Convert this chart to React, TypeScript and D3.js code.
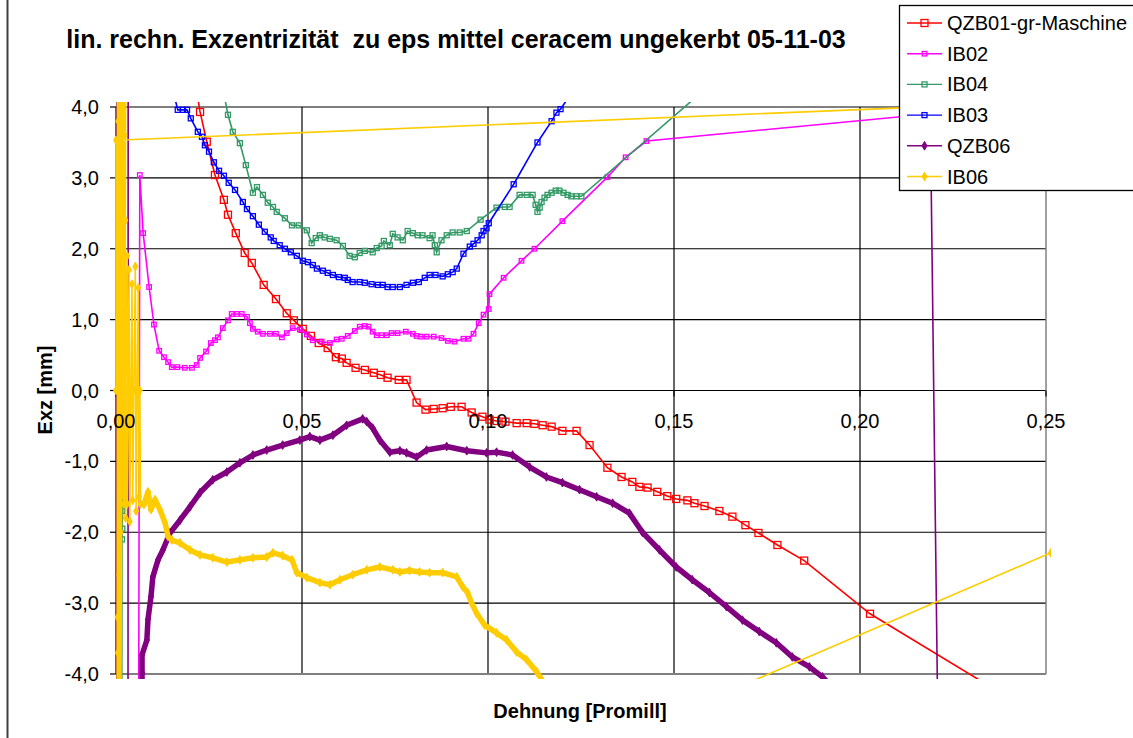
import React from 'react';
import * as d3 from 'd3';

const W = 1133;
const H = 738;

const xTicks = [0, 0.05, 0.1, 0.15, 0.2, 0.25];
const yTicks = [-4, -3, -2, -1, 0, 1, 2, 3, 4];

const seriesNames = ['QZB01-gr-Maschine', 'IB02', 'IB04', 'IB03', 'QZB06', 'IB06'];
const seriesColors = ['#FF0000', '#FF00FF', '#339966', '#0000FF', '#800080', '#FFCC00'];

const qzb01: [number, number][] = [
  [0.0212, 4.38], [0.0226, 3.93], [0.0244, 3.51], [0.0266, 3.04], [0.0290, 2.69], [0.0301, 2.48],
  [0.0322, 2.22], [0.0346, 1.94], [0.0365, 1.80], [0.0397, 1.49], [0.0430, 1.29], [0.0459, 1.09],
  [0.0478, 0.99], [0.0502, 0.87], [0.0524, 0.77], [0.0545, 0.67], [0.0569, 0.60], [0.0591, 0.47],
  [0.0607, 0.45], [0.0620, 0.39], [0.0644, 0.32], [0.0669, 0.29], [0.0693, 0.25], [0.0712, 0.22],
  [0.0730, 0.18], [0.0760, 0.15], [0.0781, 0.15], [0.0808, -0.17], [0.0832, -0.27], [0.0854, -0.26],
  [0.0878, -0.25], [0.0900, -0.23], [0.0929, -0.23], [0.0956, -0.31], [0.0985, -0.37], [0.1004, -0.41],
  [0.1023, -0.43], [0.1047, -0.44], [0.1077, -0.46], [0.1104, -0.46], [0.1125, -0.47], [0.1147, -0.49],
  [0.1171, -0.51], [0.1200, -0.57], [0.1238, -0.57], [0.1273, -0.77], [0.1321, -1.09], [0.1359, -1.22],
  [0.1388, -1.29], [0.1407, -1.36], [0.1429, -1.37], [0.1455, -1.43], [0.1482, -1.49], [0.1506, -1.53],
  [0.1536, -1.55], [0.1555, -1.59], [0.1582, -1.63], [0.1622, -1.70], [0.1657, -1.78], [0.1692, -1.90],
  [0.1727, -2.01], [0.1778, -2.18], [0.1850, -2.40], [0.2027, -3.15], [0.2401, -4.34],
];

const ib02: [number, number][] = [
  [0.0058, -12], [0.0064, 3.04], [0.0073, 2.22], [0.0089, 1.46], [0.0102, 0.93], [0.0116, 0.56],
  [0.0129, 0.47], [0.0140, 0.40], [0.0150, 0.33], [0.0165, 0.33], [0.0185, 0.32], [0.0204, 0.32],
  [0.0217, 0.36], [0.0226, 0.46], [0.0242, 0.55], [0.0255, 0.67], [0.0266, 0.71], [0.0274, 0.75],
  [0.0287, 0.88], [0.0301, 0.99], [0.0311, 1.08], [0.0325, 1.08], [0.0338, 1.08], [0.0352, 1.04],
  [0.0360, 0.95], [0.0368, 0.87], [0.0381, 0.83], [0.0395, 0.80], [0.0414, 0.80], [0.0430, 0.80],
  [0.0446, 0.75], [0.0459, 0.81], [0.0475, 0.88], [0.0494, 0.86], [0.0513, 0.79], [0.0529, 0.71],
  [0.0553, 0.69], [0.0575, 0.67], [0.0593, 0.72], [0.0607, 0.73], [0.0623, 0.77], [0.0642, 0.84],
  [0.0655, 0.90], [0.0669, 0.91], [0.0679, 0.90], [0.0690, 0.83], [0.0701, 0.78], [0.0714, 0.78],
  [0.0728, 0.78], [0.0741, 0.81], [0.0757, 0.81], [0.0779, 0.83], [0.0798, 0.80], [0.0808, 0.77],
  [0.0819, 0.76], [0.0835, 0.76], [0.0854, 0.76], [0.0875, 0.74], [0.0892, 0.70], [0.0910, 0.69],
  [0.0934, 0.73], [0.0948, 0.73], [0.0961, 0.80], [0.0975, 0.95], [0.0988, 1.07], [0.1002, 1.15],
  [0.1004, 1.36], [0.1042, 1.59], [0.1090, 1.83], [0.1125, 2.00], [0.1200, 2.39], [0.1321, 3.01],
  [0.1370, 3.29], [0.1426, 3.52], [0.3000, 4.31],
];

const ib04: [number, number][] = [
  [0.0014, -12], [0.0016, -2.1], [0.0018, -1.6], [0.0015, -1.45], [0.0017, -1.95], [0.0016, -1.7],
  [0.0017, 12], [0.0275, 4.6], [0.0301, 3.89], [0.0314, 3.65], [0.0333, 3.49], [0.0349, 3.18],
  [0.0368, 2.79], [0.0379, 2.87], [0.0395, 2.76], [0.0408, 2.65], [0.0422, 2.59], [0.0432, 2.52],
  [0.0454, 2.43], [0.0473, 2.33], [0.0491, 2.33], [0.0513, 2.26], [0.0526, 2.08], [0.0537, 2.15],
  [0.0548, 2.19], [0.0561, 2.16], [0.0575, 2.14], [0.0593, 2.12], [0.0610, 2.04], [0.0628, 1.90],
  [0.0642, 1.88], [0.0655, 1.94], [0.0669, 1.97], [0.0690, 1.95], [0.0701, 2.01], [0.0714, 2.04],
  [0.0720, 2.11], [0.0736, 2.05], [0.0744, 2.21], [0.0757, 2.16], [0.0771, 2.12], [0.0784, 2.25],
  [0.0798, 2.22], [0.0811, 2.19], [0.0824, 2.19], [0.0843, 2.15], [0.0851, 2.19], [0.0857, 2.05],
  [0.0862, 1.95], [0.0875, 2.12], [0.0889, 2.19], [0.0905, 2.23], [0.0924, 2.23], [0.0943, 2.25],
  [0.0980, 2.41], [0.1023, 2.58], [0.1045, 2.59], [0.1058, 2.59], [0.1085, 2.76], [0.1104, 2.76],
  [0.1120, 2.76], [0.1128, 2.62], [0.1133, 2.52], [0.1139, 2.58], [0.1144, 2.66], [0.1152, 2.72],
  [0.1160, 2.76], [0.1171, 2.79], [0.1182, 2.82], [0.1192, 2.82], [0.1203, 2.79], [0.1214, 2.76],
  [0.1224, 2.74], [0.1238, 2.74], [0.1251, 2.74], [0.1568, 4.18],
];

const ib03: [number, number][] = [
  [0.0150, 4.30], [0.0166, 3.96], [0.0180, 3.96], [0.0191, 3.96], [0.0201, 3.84], [0.0220, 3.65],
  [0.0231, 3.58], [0.0239, 3.46], [0.0250, 3.37], [0.0263, 3.22], [0.0277, 3.10], [0.0290, 3.03],
  [0.0303, 2.93], [0.0320, 2.83], [0.0341, 2.66], [0.0352, 2.56], [0.0368, 2.46], [0.0384, 2.34],
  [0.0400, 2.24], [0.0416, 2.16], [0.0424, 2.11], [0.0440, 2.05], [0.0454, 2.00], [0.0470, 1.95],
  [0.0486, 1.90], [0.0502, 1.83], [0.0516, 1.81], [0.0529, 1.77], [0.0540, 1.72], [0.0556, 1.69],
  [0.0569, 1.66], [0.0583, 1.63], [0.0599, 1.60], [0.0615, 1.59], [0.0623, 1.56], [0.0636, 1.53],
  [0.0655, 1.53], [0.0669, 1.52], [0.0687, 1.50], [0.0704, 1.49], [0.0717, 1.49], [0.0730, 1.46],
  [0.0744, 1.46], [0.0763, 1.46], [0.0781, 1.49], [0.0798, 1.52], [0.0814, 1.53], [0.0830, 1.59],
  [0.0843, 1.63], [0.0859, 1.63], [0.0878, 1.61], [0.0892, 1.64], [0.0905, 1.67], [0.0916, 1.72],
  [0.0934, 1.93], [0.0951, 2.03], [0.0961, 2.07], [0.0972, 2.12], [0.0983, 2.19], [0.0988, 2.25],
  [0.0996, 2.29], [0.1002, 2.36], [0.1069, 2.91], [0.1133, 3.50], [0.1171, 3.80], [0.1184, 3.92],
  [0.1195, 3.97], [0.1230, 4.24],
];

const qzb06: [number, number][] = [
  [0.0002, -12], [0.0003, 12], [0.0004, -12], [0.0005, 12], [0.0033, 12], [0.0032, -12],
  [0.0070, -4.22], [0.0070, -3.98], [0.0070, -3.73], [0.0083, -3.52], [0.0086, -3.23], [0.0094, -2.91],
  [0.0099, -2.63], [0.0113, -2.39], [0.0126, -2.25], [0.0145, -2.01], [0.0172, -1.83], [0.0199, -1.64],
  [0.0226, -1.44], [0.0260, -1.26], [0.0298, -1.15], [0.0333, -1.02], [0.0368, -0.91], [0.0405, -0.84],
  [0.0448, -0.77], [0.0494, -0.70], [0.0521, -0.65], [0.0548, -0.70], [0.0583, -0.63], [0.0620, -0.49],
  [0.0663, -0.40], [0.0674, -0.44], [0.0690, -0.53], [0.0709, -0.70], [0.0736, -0.87], [0.0763, -0.85],
  [0.0781, -0.88], [0.0808, -0.94], [0.0835, -0.84], [0.0889, -0.79], [0.0943, -0.85], [0.0996, -0.88],
  [0.1023, -0.87], [0.1066, -0.91], [0.1112, -1.08], [0.1157, -1.22], [0.1200, -1.30], [0.1246, -1.40],
  [0.1292, -1.50], [0.1335, -1.59], [0.1380, -1.73], [0.1415, -2.00], [0.1461, -2.25], [0.1506, -2.49],
  [0.1549, -2.67], [0.1595, -2.85], [0.1641, -3.05], [0.1684, -3.24], [0.1729, -3.40], [0.1775, -3.56],
  [0.1818, -3.76], [0.1864, -3.90], [0.1899, -4.04], [0.1931, -4.22], [0.2217, -8], [0.2170, 12],
];

const ib06: [number, number][] = [
  [0.0000, 0.0], [0.0000, 3.53], [0.3000, 4.18], [0.0004, 6.0],
  [0.0003, -4.6], [0.0005, 4.6], [0.0004, -3.2], [0.0006, 3.8], [0.0007, -4.6], [0.0008, 2.9],
  [0.0009, -2.6], [0.0010, 4.6], [0.0008, -4.6], [0.0006, 4.6], [0.0005, -3.7],
  [0.0012, 4.6], [0.0014, -1.5], [0.0016, 4.6], [0.0018, -1.2], [0.0020, 4.6], [0.0022, 0.0],
  [0.0024, 4.6], [0.0026, -1.8], [0.0013, 3.0], [0.0021, -1.6], [0.0017, 2.5], [0.0025, 0.0],
  [0.0011, 0.0], [0.0019, 4.6], [0.0023, -1.0], [0.0015, 0.0], [0.0007, 4.6], [0.0009, -4.6],
  [0.0011, 4.6], [0.0013, -4.6], [0.0016, 0.0],
  [0.0018, 4.6], [0.0021, 1.2], [0.0022, 4.6], [0.0025, 2.4], [0.0026, 4.6], [0.0024, -0.5],
  [0.0023, 3.6], [0.0019, -1.4], [0.0014, 3.8], [0.0012, -2.0], [0.0020, 0.0],
  [0.0025, 0.0], [0.0030, 1.9], [0.0030, -1.6], [0.0033, 0.0], [0.0035, 1.7], [0.0037, -1.85],
  [0.0040, 0.0], [0.0043, 1.5], [0.0045, -1.55], [0.0048, 0.0], [0.0052, 1.75], [0.0054, -1.7],
  [0.0057, 0.0], [0.0060, 1.45], [0.0062, -1.5], [0.0064, 0.0], [0.0066, -1.6],
  [0.0075, -1.61], [0.0086, -1.43], [0.0094, -1.68], [0.0105, -1.54], [0.0118, -1.68], [0.0132, -1.87],
  [0.0140, -2.06], [0.0150, -2.11], [0.0172, -2.15], [0.0199, -2.25], [0.0226, -2.32], [0.0260, -2.36],
  [0.0298, -2.42], [0.0333, -2.39], [0.0368, -2.36], [0.0405, -2.35], [0.0422, -2.29], [0.0448, -2.33],
  [0.0473, -2.39], [0.0486, -2.57], [0.0513, -2.64], [0.0548, -2.71], [0.0575, -2.74], [0.0602, -2.67],
  [0.0636, -2.60], [0.0674, -2.53], [0.0709, -2.49], [0.0744, -2.53], [0.0763, -2.56], [0.0789, -2.54],
  [0.0816, -2.56], [0.0843, -2.57], [0.0878, -2.57], [0.0916, -2.63], [0.0932, -2.77], [0.0945, -2.85],
  [0.0956, -3.00], [0.0969, -3.14], [0.0991, -3.31], [0.1023, -3.42], [0.1050, -3.52], [0.1077, -3.69],
  [0.1104, -3.80], [0.1131, -3.97], [0.1152, -4.14], [0.1600, -4.35], [0.2513, -2.29],
];

const seriesData = [qzb01, ib02, ib04, ib03, qzb06, ib06];
const seriesMarker = ['square', 'square', 'square', 'square', 'diamond', 'diamond'];
const seriesMarkerSize = [7, 4.5, 5, 5, 6, 6];
const seriesBand = [false, false, false, false, true, true];

const locale = d3.formatLocale({ decimal: ',', thousands: '.', grouping: [3], currency: ['', ''], minus: '-' });
const fmtX = locale.format('.2f');
const fmtY = locale.format('.1f');

const FONT = 'Liberation Sans, Arial, Helvetica, sans-serif';

const x = d3.scaleLinear().domain([0, 0.25]).range([116, 1046]);
const y = d3.scaleLinear().domain([-4, 4]).range([674, 107]);

function Marker({ cx, cy, kind, size, color }: any) {
  if (kind === 'square') {
    return <rect x={cx - size / 2} y={cy - size / 2} width={size} height={size} fill="none" stroke={color} strokeWidth={1.3} />;
  }
  const p = d3.symbol().type(d3.symbolDiamond).size(size * size * 0.6)();
  return <path d={p || ''} transform={`translate(${cx},${cy})`} fill={color} stroke={color} strokeWidth={1} />;
}

function Series({ idx }: { idx: number }) {
  const data = seriesData[idx];
  const color = seriesColors[idx];
  const line = d3.line<[number, number]>().x((d) => x(d[0])).y((d) => y(d[1]));
  let band = '';
  if (seriesBand[idx]) {
    for (let i = 1; i < data.length; i++) {
      const x0 = x(data[i - 1][0]);
      const y0 = y(data[i - 1][1]);
      const x1 = x(data[i][0]);
      const y1 = y(data[i][1]);
      if (Math.hypot(x1 - x0, y1 - y0) < 32) band += `M${x0},${y0}L${x1},${y1}`;
    }
  }
  return (
    <g>
      <path d={line(data) || ''} fill="none" stroke={color} strokeWidth={1.6} />
      {band && <path d={band} fill="none" stroke={color} strokeWidth={5.5} strokeLinecap="round" strokeLinejoin="round" />}
      {data.map((d, i) => (
        <Marker key={i} cx={x(d[0])} cy={y(d[1])} kind={seriesMarker[idx]} size={seriesMarkerSize[idx]} color={color} />
      ))}
    </g>
  );
}

export default function App() {
  const [x0, x1] = x.range();
  const [yb, yt] = y.range();
  const legendY = (i: number) => 23 + i * 30.7;
  return (
    <svg width={W} height={H} style={{ position: 'absolute', left: 0, top: 0, background: '#fff' }} fontFamily={FONT}>
      <rect x={0} y={0} width={W} height={H} fill="#fff" />
      <line x1={7.5} y1={0} x2={7.5} y2={H} stroke="#404040" strokeWidth={2} />
      <defs>
        <clipPath id="plotclip">
          <rect x={x0 - 5} y={yt - 5} width={x1 - x0 + 10} height={yb - yt + 10} />
        </clipPath>
      </defs>
      {yTicks.map((t) => (
        <line key={'gy' + t} x1={x0} x2={x1} y1={y(t)} y2={y(t)} stroke="#000" strokeWidth={1.2} />
      ))}
      {xTicks.slice(1, -1).map((t) => (
        <line key={'gx' + t} x1={x(t)} x2={x(t)} y1={yt} y2={yb} stroke="#000" strokeWidth={1.2} />
      ))}
      <line x1={x1} x2={x1} y1={yt} y2={yb} stroke="#808080" strokeWidth={1.5} />
      <line x1={x0} x2={x1} y1={yb} y2={yb} stroke="#808080" strokeWidth={2} />
      <line x1={x0} x2={x0} y1={yt} y2={yb} stroke="#000" strokeWidth={1.2} />
      {yTicks.map((t) => (
        <line key={'ty' + t} x1={x0 - 6} x2={x0} y1={y(t)} y2={y(t)} stroke="#000" strokeWidth={1.2} />
      ))}
      {xTicks.map((t) => (
        <line key={'tx' + t} x1={x(t)} x2={x(t)} y1={y(0)} y2={y(0) + 6} stroke="#000" strokeWidth={1.2} />
      ))}
      {yTicks.map((t) => (
        <text key={'ly' + t} x={99} y={y(t) + 7} textAnchor="end" fontSize={20} fill="#000">{fmtY(t)}</text>
      ))}
      <g clipPath="url(#plotclip)">
        {seriesData.map((_, i) => (
          <Series key={i} idx={i} />
        ))}
      </g>
      {xTicks.map((t) => (
        <text key={'lx' + t} x={x(t)} y={y(0) + 37} textAnchor="middle" fontSize={20} fill="#000">{fmtX(t)}</text>
      ))}
      <text x={456} y={48} textAnchor="middle" fontSize={25} fontWeight="bold" fill="#000">
        lin. rechn. Exzentrizität{'\u00a0\u00a0'}zu eps mittel ceracem ungekerbt 05-11-03
      </text>
      <text x={580} y={718} textAnchor="middle" fontSize={20} fontWeight="bold" fill="#000">Dehnung [Promill]</text>
      <text transform={`translate(52,390) rotate(-90)`} textAnchor="middle" fontSize={20} fontWeight="bold" fill="#000">Exz [mm]</text>
      <rect x={899.5} y={5.5} width={250} height={185} fill="#fff" stroke="#000" strokeWidth={1.3} />
      {seriesNames.map((n, i) => (
        <g key={n}>
          <line x1={907} x2={942} y1={legendY(i)} y2={legendY(i)} stroke={seriesColors[i]} strokeWidth={1.4} />
          <Marker cx={924.5} cy={legendY(i)} kind={seriesMarker[i]} size={seriesMarkerSize[i]} color={seriesColors[i]} />
          <text x={947} y={legendY(i) + 7} fontSize={20} fill="#000">{n}</text>
        </g>
      ))}
    </svg>
  );
}
